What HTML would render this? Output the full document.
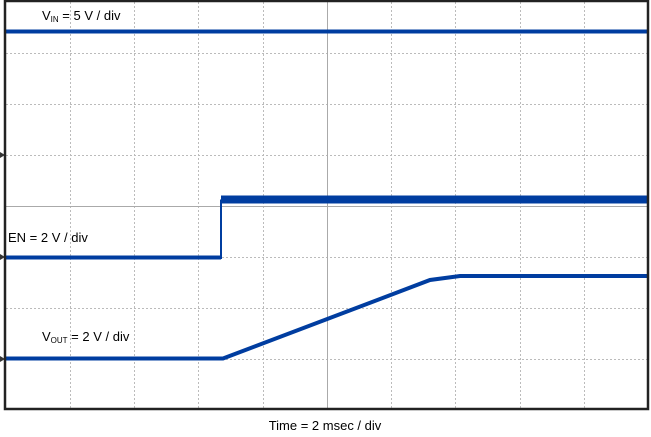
<!DOCTYPE html>
<html><head><style>body{margin:0;background:#fff;width:651px;height:432px;overflow:hidden}</style></head><body>
<svg width="651" height="432" xmlns="http://www.w3.org/2000/svg" font-family="Liberation Sans, sans-serif">
<g stroke="#bbb" stroke-width="1" stroke-dasharray="2,2">
<line x1="70.5" y1="2" x2="70.5" y2="409"/><line x1="134.5" y1="2" x2="134.5" y2="409"/><line x1="198.5" y1="2" x2="198.5" y2="409"/><line x1="263.5" y1="2" x2="263.5" y2="409"/>
<line x1="391.5" y1="2" x2="391.5" y2="409"/><line x1="455.5" y1="2" x2="455.5" y2="409"/><line x1="520.5" y1="2" x2="520.5" y2="409"/><line x1="584.5" y1="2" x2="584.5" y2="409"/>
<line x1="6" y1="53.5" x2="648" y2="53.5"/><line x1="6" y1="104.5" x2="648" y2="104.5"/><line x1="6" y1="155.5" x2="648" y2="155.5"/>
<line x1="6" y1="257.5" x2="648" y2="257.5"/><line x1="6" y1="308.5" x2="648" y2="308.5"/><line x1="6" y1="359.5" x2="648" y2="359.5"/>
</g>
<g stroke="#aaa" stroke-width="1"><line x1="327.5" y1="2" x2="327.5" y2="409"/><line x1="6" y1="206.5" x2="648" y2="206.5"/></g>
<path d="M0 152 L5 155 L0 158Z M0 254 L5 257 L0 260Z M0 356 L5 359 L0 362Z" fill="#333"/>
<g fill="none" stroke="#003da0">
<line x1="6" y1="31.5" x2="648" y2="31.5" stroke-width="4"/>
<line x1="6" y1="257.5" x2="221" y2="257.5" stroke-width="4"/>
<line x1="221" y1="259" x2="221" y2="199.5" stroke-width="2"/>
<line x1="221" y1="199.5" x2="648" y2="199.5" stroke-width="8"/>
<polyline points="6,358.5 223,358.5 430,280 460,276 648,276" stroke-width="4"/>
</g>
<rect x="5" y="1" width="643" height="408" fill="none" stroke="#222" stroke-width="2.5"/>
<g font-size="13" fill="#000">
<text x="42" y="20">V<tspan font-size="8" dy="2">IN</tspan><tspan dy="-2"> = 5 V / div</tspan></text>
<text x="8" y="242">EN = 2 V / div</text>
<text x="42" y="341">V<tspan font-size="8" dy="2">OUT</tspan><tspan dy="-2"> = 2 V / div</tspan></text>
<text x="325" y="430" text-anchor="middle">Time = 2 msec / div</text>
</g>
</svg>
</body></html>
